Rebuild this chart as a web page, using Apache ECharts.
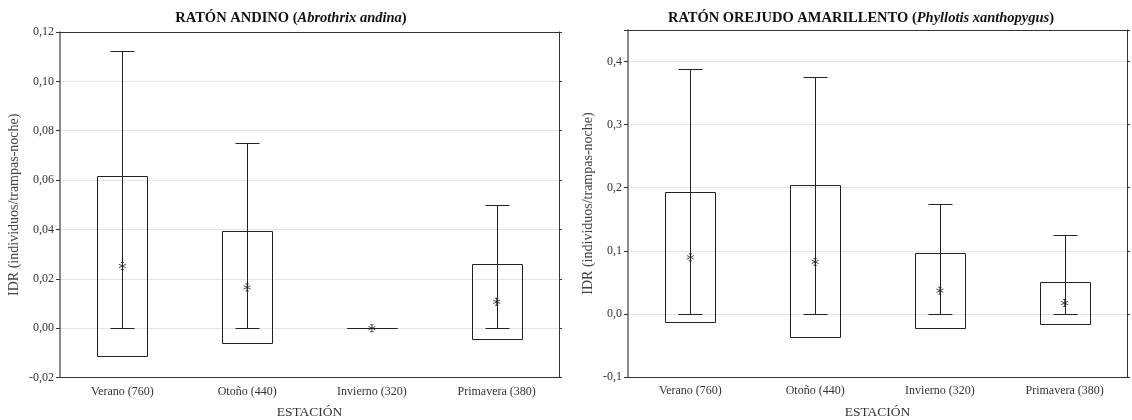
<!DOCTYPE html>
<html>
<head>
<meta charset="utf-8">
<script src="https://cdn.jsdelivr.net/npm/echarts@6/dist/echarts.min.js"></script>
<style>
  html, body { margin: 0; padding: 0; background: #fff; }
  #chart { width: 1132px; height: 420px; }
</style>
</head>
<body>
<div id="chart"></div>
<script>
// estaciones (con nº de trampas-noche)
const categories = ["Verano (760)", "Otoño (440)", "Invierno (320)", "Primavera (380)"];

// Ratón andino (Abrothrix andina)
const andinaMean = [0.0252, 0.0165, 0, 0.0107];
const andinaBoxLow = [-0.0111, -0.006, 0, -0.0046];
const andinaBoxHigh = [0.0615, 0.0395, 0, 0.0258];
const andinaMin = [0, 0, 0, 0];
const andinaMax = [0.1125, 0.075, 0, 0.05];

// Ratón orejudo amarillento (Phyllotis xanthopygus)
const xanthoMean = [0.0897, 0.0825, 0.0368, 0.0172];
const xanthoBoxLow = [-0.0133, -0.0367, -0.0223, -0.016];
const xanthoBoxHigh = [0.1925, 0.2045, 0.0968, 0.0506];
const xanthoMin = [0, 0, 0, 0];
const xanthoMax = [0.3875, 0.375, 0.175, 0.125];

const andinaTicks = { min: -0.02, max: 0.12, interval: 0.02 };
const xanthoTicks = { min: -0.1, max: 0.45, interval: 0.1 };

const serif = "Liberation Serif";
const ink = "#222";
const yName = "IDR (individuos/trampas-noche)";

function rows(mins, lows, highs, maxs) {
  return categories.map((c, i) => [i, mins[i], lows[i], highs[i], maxs[i]]);
}

function crisp(v) {
  return Math.round(v) + 0.5;
}

function renderBox(params, api) {
  const i = api.value(0);
  const pMin = api.coord([i, api.value(1)]);
  const pLow = api.coord([i, api.value(2)]);
  const pHigh = api.coord([i, api.value(3)]);
  const pMax = api.coord([i, api.value(4)]);
  const band = api.size([1, 0])[0];
  const bw = Math.round(band * 0.4);
  const cw = Math.round(band * 0.19);
  const x = crisp(pMin[0]);
  const style = { stroke: ink, lineWidth: 1, fill: null };
  const yLow = crisp(pLow[1]), yHigh = crisp(pHigh[1]);
  const yMin = crisp(pMin[1]), yMax = crisp(pMax[1]);
  const bx0 = x - bw / 2, bx1 = x + bw / 2;
  return {
    type: "group",
    children: [
      { type: "polyline", shape: { points: [[bx0, yHigh], [bx1, yHigh], [bx1, yLow], [bx0, yLow], [bx0, yHigh]] }, style: style },
      { type: "line", shape: { x1: x, y1: yMin, x2: x, y2: yMax }, style: style },
      { type: "line", shape: { x1: x - cw / 2, y1: yMax, x2: x + cw / 2, y2: yMax }, style: style },
      { type: "line", shape: { x1: x - cw / 2, y1: yMin, x2: x + cw / 2, y2: yMin }, style: style }
    ]
  };
}

const star = "path://M5 0 L5 10 M0.7 2.5 L9.3 7.5 M0.7 7.5 L9.3 2.5 M3 0 L7 0 M3 10 L7 10";

function xAxes(gridIndex) {
  return [
    {
      gridIndex: gridIndex, type: "category", data: categories, position: "bottom",
      name: "ESTACIÓN", nameLocation: "middle", nameGap: 28,
      nameTextStyle: { fontFamily: serif, fontSize: 13.5, color: "#333" },
      axisLine: { onZero: false, lineStyle: { color: "#333", width: 1 } },
      axisTick: { alignWithLabel: true, length: 4, lineStyle: { color: "#333" } },
      axisLabel: { fontFamily: serif, fontSize: 12, color: "#333", margin: 8 },
      splitLine: { show: false }
    },
    {
      gridIndex: gridIndex, type: "category", data: categories, position: "top",
      axisLine: { onZero: false, lineStyle: { color: "#333", width: 1 } },
      axisTick: { alignWithLabel: true, length: 3, lineStyle: { color: "#333" } },
      axisLabel: { show: false },
      splitLine: { show: false }
    }
  ];
}

function yAxes(gridIndex, t, digits, gap) {
  const fmt = v => {
    const k = Math.round(v / t.interval * 1000) / 1000;
    if (Math.abs(k - Math.round(k)) > 1e-6) return "";
    return v.toFixed(digits).replace(".", ",");
  };
  return [
    {
      gridIndex: gridIndex, type: "value", position: "left",
      min: t.min, max: t.max, interval: t.interval,
      name: yName, nameLocation: "middle", nameGap: gap, nameRotate: 90,
      nameTextStyle: { fontFamily: serif, fontSize: 14, color: "#444" },
      axisLine: { show: true, onZero: false, lineStyle: { color: "#666", width: 1.5 } },
      axisTick: { show: true, length: 4, lineStyle: { color: "#333" } },
      axisLabel: { fontFamily: serif, fontSize: 12, color: "#333", margin: 6, formatter: fmt },
      splitLine: { show: true, lineStyle: { color: "#e4e4e4", width: 1 } }
    },
    {
      gridIndex: gridIndex, type: "value", position: "right",
      min: t.min, max: t.max, interval: t.interval,
      axisLine: { show: true, onZero: false, lineStyle: { color: "#333", width: 1 } },
      axisTick: { show: true, length: 3, lineStyle: { color: "#333" } },
      axisLabel: { show: false },
      splitLine: { show: false }
    }
  ];
}

function panelSeries(gridIdx, mins, lows, highs, maxs, means) {
  const xi = gridIdx * 2, yi = gridIdx * 2;
  return [
    {
      type: "custom", xAxisIndex: xi, yAxisIndex: yi,
      renderItem: renderBox, data: rows(mins, lows, highs, maxs),
      encode: { x: 0, y: [1, 2, 3, 4] }, silent: true
    },
    {
      type: "scatter", xAxisIndex: xi, yAxisIndex: yi,
      data: means.map((m, i) => [i, m]),
      symbol: star, symbolSize: 7,
      itemStyle: { color: "none", borderColor: ink, borderWidth: 1 },
      silent: true, z: 5
    }
  ];
}

const title = (txt, sp, x) => ({
  text: "{b|" + txt + " (}{i|" + sp + "}{b|)}",
  left: x, top: 6, textAlign: "center",
  textStyle: {
    rich: {
      b: { fontFamily: serif, fontWeight: "bold", fontSize: 14.5, color: "#111" },
      i: { fontFamily: serif, fontWeight: "bold", fontStyle: "italic", fontSize: 14.5, color: "#111" }
    }
  }
});

const chart = echarts.init(document.getElementById("chart"));
chart.setOption({
  animation: false,
  backgroundColor: "#fff",
  title: [
    title("RATÓN ANDINO", "Abrothrix andina", 286),
    title("RATÓN OREJUDO AMARILLENTO", "Phyllotis xanthopygus", 856)
  ],
  grid: [
    { left: 60, top: 32, width: 499, height: 345.5, outerBoundsMode: "none" },
    { left: 628, top: 30, width: 499, height: 347, outerBoundsMode: "none" }
  ],
  xAxis: [...xAxes(0), ...xAxes(1)],
  yAxis: [...yAxes(0, andinaTicks, 2, 39), ...yAxes(1, xanthoTicks, 1, 33)],
  series: [
    ...panelSeries(0, andinaMin, andinaBoxLow, andinaBoxHigh, andinaMax, andinaMean),
    ...panelSeries(1, xanthoMin, xanthoBoxLow, xanthoBoxHigh, xanthoMax, xanthoMean)
  ]
});
</script>
</body>
</html>
